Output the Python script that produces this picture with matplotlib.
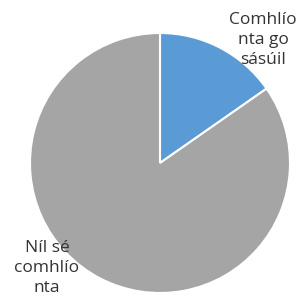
import matplotlib
matplotlib.use('Agg')
import matplotlib.pyplot as plt

labels = ['Comhlío\nnta go\nsásúil', 'Níl sé\ncomhlío\nnta']
values = [15.3, 84.7]
colors = ['#5B9BD5', '#A5A5A5']

W, H = 303, 305
fig = plt.figure(figsize=(W / 100, H / 100), dpi=100)
# pie centre about (160,163) px, radius 130 px
ax = fig.add_axes([30 / W, (H - 293) / H, 260 / W, 260 / H])
wedges, _ = ax.pie(values, colors=colors, startangle=90, counterclock=False,
                   radius=1, wedgeprops=dict(edgecolor='white', linewidth=1.5))
ax.set_xlim(-1, 1)
ax.set_ylim(-1, 1)
ax.set_aspect('equal')
ax.axis('off')

# labels placed like the reference
fig.text(263 / W, 1 - 40 / H, labels[0], ha='center', va='center',
         fontsize=12.5, color='#333333', family='Open Sans', linespacing=1.3)
fig.text(47 / W, 1 - 268 / H, labels[1], ha='center', va='center',
         fontsize=12.5, color='#333333', family='Open Sans', linespacing=1.3)

fig.savefig('out.png', dpi=100)
